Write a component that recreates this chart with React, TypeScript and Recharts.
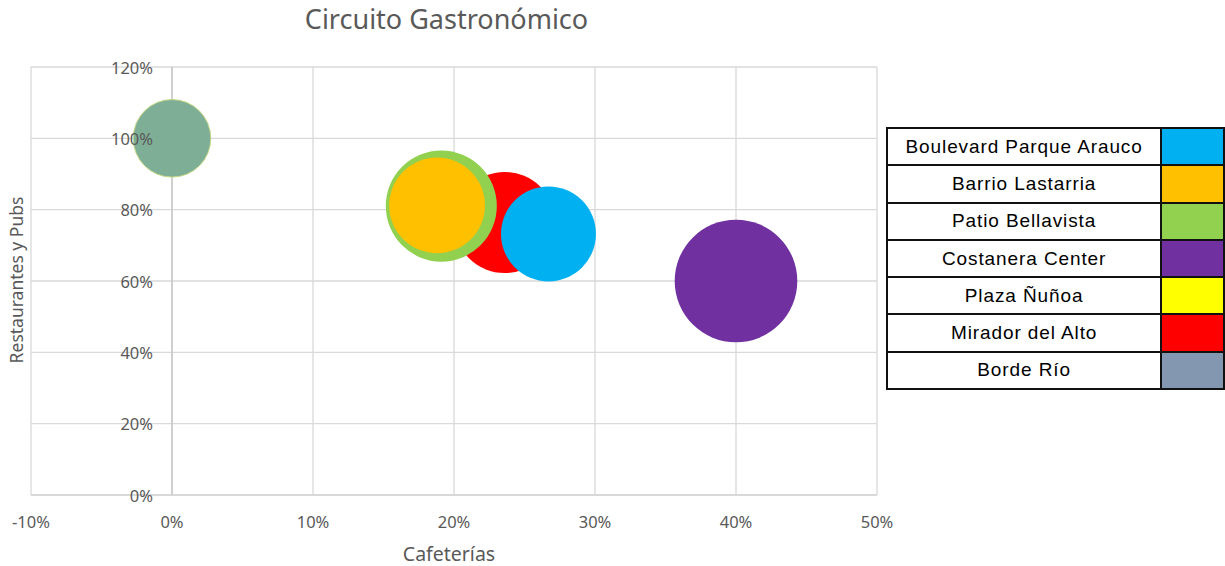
import {
  ScatterChart,
  Scatter,
  XAxis,
  YAxis,
  ZAxis,
  CartesianGrid,
  ReferenceLine,
} from 'recharts';

// legend order
const names = [
  'Boulevard Parque Arauco',
  'Barrio Lastarria',
  'Patio Bellavista',
  'Costanera Center',
  'Plaza Ñuñoa',
  'Mirador del Alto',
  'Borde Río',
];
const colors = ['#00b0f0', '#ffc000', '#92d050', '#7030a0', '#ffff00', '#ff0000', '#8497b0'];
const cafeterias = [0.267, 0.188, 0.191, 0.4, 0, 0.236, 0];
const restaurantes = [0.732, 0.812, 0.81, 0.6, 1.0, 0.764, 1.0];
const sizes = [60, 61, 82, 100, 40, 68, 40];
// drawing order (bottom to top)
const drawOrder = [3, 5, 2, 1, 0, 4, 6];

const xTicks = [-0.1, 0, 0.1, 0.2, 0.3, 0.4, 0.5];
const yTicks = [0, 0.2, 0.4, 0.6, 0.8, 1.0, 1.2];

const X_MIN = -0.1;
const X_MAX = 0.5;
const Y_MIN = 0;
const Y_MAX = 1.2;
const PLOT_LEFT = 31;
const PLOT_TOP = 67;
const PLOT_W = 846;
const PLOT_H = 428;
const CHART_W = 905;
const CHART_H = 566;
const Y_AXIS_W = 10;
const X_AXIS_H = 30;

const pct = (v: number) => `${Math.round(v * 100)}%`;
const font = '"Noto Sans", sans-serif';

const zeroX = PLOT_LEFT + ((0 - X_MIN) / (X_MAX - X_MIN)) * PLOT_W;
const yPos = (v: number) => PLOT_TOP + (1 - (v - Y_MIN) / (Y_MAX - Y_MIN)) * PLOT_H;

const renderXTick = (props: any) => (
  <text
    key={`x-${props.index}`}
    x={props.x}
    y={PLOT_TOP + PLOT_H + 26}
    textAnchor="middle"
    dominantBaseline="central"
    fontFamily={font}
    fontSize={16.5}
    fill="#595959"
  >
    {pct(props.payload.value)}
  </text>
);

// y tick labels are drawn in an overlay so they sit above the bubbles
const emptyTick = (props: any) => <g key={`y-${props.index}`} />;

export default function App() {
  const border = '2px solid #111';
  return (
    <div style={{ position: 'absolute', left: 0, top: 0, width: 1225, height: 566, background: '#fff' }}>
      <div
        style={{
          position: 'absolute',
          left: 0,
          width: 893,
          top: 0,
          textAlign: 'center',
          fontFamily: font,
          fontSize: 27,
          color: '#595959',
        }}
      >
        Circuito Gastronómico
      </div>
      <ScatterChart
        width={CHART_W}
        height={CHART_H}
        margin={{
          top: PLOT_TOP,
          left: PLOT_LEFT - Y_AXIS_W,
          right: CHART_W - PLOT_LEFT - PLOT_W,
          bottom: CHART_H - PLOT_TOP - PLOT_H - X_AXIS_H,
        }}
      >
        <CartesianGrid stroke="#d9d9d9" strokeWidth={1.3} />
        <XAxis
          type="number"
          dataKey="x"
          domain={[X_MIN, X_MAX]}
          ticks={xTicks}
          interval={0}
          height={X_AXIS_H}
          tickLine={false}
          axisLine={{ stroke: '#d0d0d0' }}
          tick={renderXTick}
          allowDataOverflow
        />
        <YAxis
          type="number"
          dataKey="y"
          domain={[Y_MIN, Y_MAX]}
          ticks={yTicks}
          interval={0}
          width={Y_AXIS_W}
          tickLine={false}
          axisLine={false}
          tick={emptyTick}
        />
        <ZAxis type="number" dataKey="z" domain={[0, 100]} range={[0, Math.PI * 61.3 * 61.3]} />
        <ReferenceLine x={0} stroke="#c4c4c4" strokeWidth={1.3} />
        {drawOrder.map((i) => (
          <Scatter
            key={names[i]}
            name={names[i]}
            data={[{ x: cafeterias[i], y: restaurantes[i], z: sizes[i] }]}
            fill={i === 6 ? '#7fae97' : colors[i]}
            stroke={i === 6 ? '#c2d78f' : 'none'}
            strokeWidth={1}
            isAnimationActive={false}
          />
        ))}
      </ScatterChart>
      <svg
        width={CHART_W}
        height={CHART_H}
        style={{ position: 'absolute', left: 0, top: 0, pointerEvents: 'none' }}
      >
        {yTicks.map((v) => (
          <text
            key={v}
            x={zeroX - 19}
            y={yPos(v)}
            textAnchor="end"
            dominantBaseline="central"
            fontFamily={font}
            fontSize={16.5}
            fill="#595959"
          >
            {pct(v)}
          </text>
        ))}
      </svg>
      <div
        style={{
          position: 'absolute',
          left: 0,
          width: 898,
          top: 540,
          textAlign: 'center',
          fontFamily: font,
          fontSize: 19.5,
          color: '#595959',
        }}
      >
        Cafeterías
      </div>
      <div
        style={{
          position: 'absolute',
          left: 16,
          top: 280,
          transform: 'translate(-50%, -50%) rotate(-90deg)',
          whiteSpace: 'nowrap',
          fontFamily: font,
          fontSize: 17.5,
          color: '#595959',
        }}
      >
        Restaurantes y Pubs
      </div>
      <table
        style={{
          position: 'absolute',
          left: 886,
          top: 127,
          borderCollapse: 'collapse',
          fontFamily: '"Liberation Sans", Arial, sans-serif',
          fontSize: 19,
          color: '#000',
          background: '#fff',
        }}
      >
        <tbody>
          {names.map((n, i) => (
            <tr key={n} style={{ height: 37.3 }}>
              <td style={{ border, width: 273, textAlign: 'center', padding: 0, letterSpacing: 0.9 }}>{n}</td>
              <td style={{ border, width: 61, padding: 0, background: colors[i] }} />
            </tr>
          ))}
        </tbody>
      </table>
    </div>
  );
}
